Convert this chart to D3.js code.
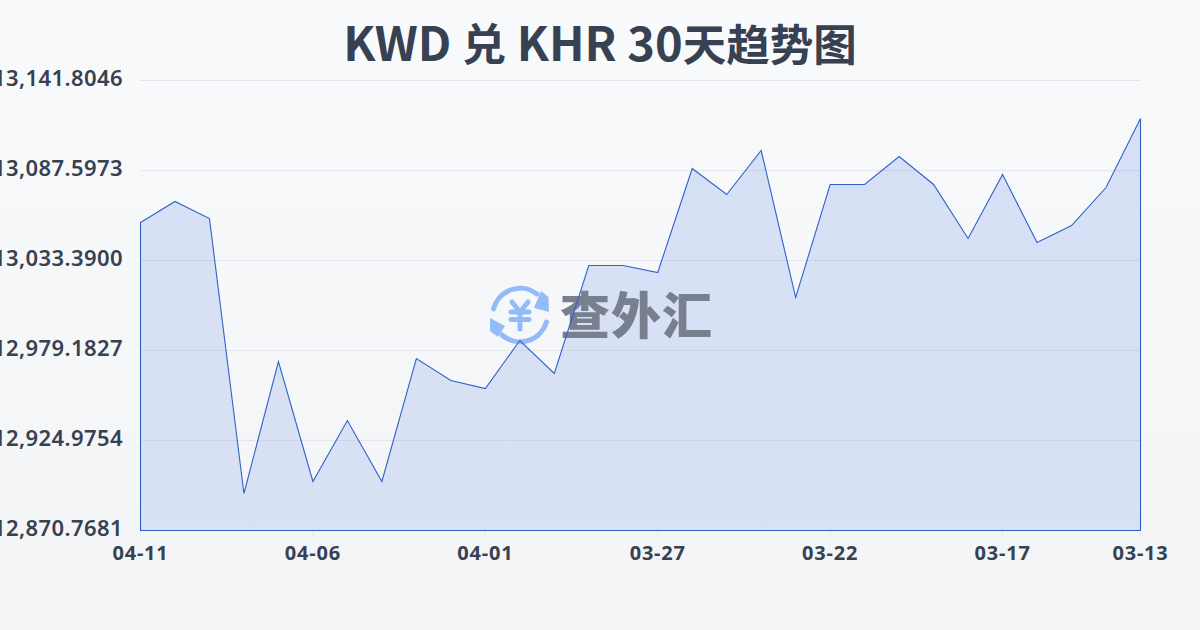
<!DOCTYPE html>
<html><head><meta charset="utf-8">
<style>html,body{margin:0;padding:0;width:1200px;height:630px;overflow:hidden}svg{display:block}</style>
<script src="https://cdn.jsdelivr.net/npm/d3@7/dist/d3.min.js"></script>
</head><body><svg id="c" width="1200" height="630"></svg>
<script>
const titleParts = [["KWD ",47],["兑",44],[" KHR 30",47],["天趋势图",43.5]];
const dates = ["04-11","04-10","04-09","04-08","04-07","04-06","04-05","04-04","04-03","04-02","04-01","03-31","03-30","03-29","03-28","03-27","03-26","03-25","03-24","03-23","03-22","03-21","03-20","03-19","03-18","03-17","03-16","03-15","03-14","03-13"];
const rates = [13056.28,13068.93,13058.69,12893.05,12972.56,12900.28,12937.02,12900.28,12974.37,12961.11,12956.29,12985.21,12965.33,13030.38,13030.38,13026.16,13088.80,13073.14,13099.64,13011.10,13079.17,13079.17,13096.03,13079.17,13046.64,13085.19,13044.23,13054.47,13077.36,13118.92];
const yTicks = [12870.7681,12924.9754,12979.1827,13033.3900,13087.5973,13141.8046];
const xTicks = ["04-11","04-06","04-01","03-27","03-22","03-17","03-13"];

const svg = d3.select("#c");
const defs = svg.append("defs");
const bg = defs.append("linearGradient").attr("id","bg").attr("x1",0).attr("y1",0).attr("x2",0).attr("y2",1);
bg.append("stop").attr("offset",0).attr("stop-color","#f9fafc");
bg.append("stop").attr("offset",1).attr("stop-color","#f3f4f6");
svg.append("rect").attr("width",1200).attr("height",630).attr("fill","url(#bg)");

const x = d3.scalePoint().domain(dates).range([140.5,1140.5]);
const y = d3.scaleLinear().domain([yTicks[0],yTicks[5]]).range([530.5,80.5]);
const font = "'Noto Sans','Noto Sans CJK SC',sans-serif";

const title = svg.append("text").attr("x",600).attr("y",61).attr("text-anchor","middle")
  .attr("font-family","'Noto Sans CJK SC',sans-serif").attr("font-weight",700)
  .attr("fill","#374151").attr("xml:space","preserve").style("white-space","pre");
titleParts.forEach(p=>title.append("tspan").attr("font-size",p[1]).text(p[0]));

const gy = svg.append("g");
yTicks.forEach(t=>{
  gy.append("line").attr("x1",140).attr("x2",1141).attr("y1",y(t)).attr("y2",y(t)).attr("stroke","#e5e7eb").attr("stroke-width",1);
  gy.append("text").attr("x",123).attr("y",y(t)+5.5).attr("text-anchor","end").attr("font-family",font)
    .attr("font-size",22).attr("font-weight",600).attr("letter-spacing",0.42).attr("fill","#374151").text(d3.format(",.4f")(t));
});
xTicks.forEach(t=>{
  svg.append("line").attr("x1",x(t)).attr("x2",x(t)).attr("y1",530).attr("y2",536).attr("stroke","#e5e7eb");
  svg.append("text").attr("x",x(t)).attr("y",560).attr("text-anchor","middle").attr("font-family",font)
    .attr("font-size",20).attr("font-weight",700).attr("letter-spacing",0.8).attr("fill","#374151").text(t);
});

const ag = defs.append("linearGradient").attr("id","ag").attr("x1",0).attr("y1",0).attr("x2",0).attr("y2",1);
ag.append("stop").attr("offset",0).attr("stop-color","#2a62da").attr("stop-opacity",0.165);
ag.append("stop").attr("offset",1).attr("stop-color","#2a62da").attr("stop-opacity",0.135);
const area = d3.area().x((d,i)=>x(dates[i])).y0(y(yTicks[0])).y1(d=>y(d));
svg.append("path").datum(rates).attr("d",d=>area(d)+"Z").attr("fill","url(#ag)");

// watermark
const wm = svg.append("g");
const ic = wm.append("g").attr("transform","translate(520,315)").attr("fill","none").attr("stroke","#93bbf9").attr("stroke-linecap","round");
ic.append("path").attr("d","M-26.5,-6 A27.5,27.5 0 0 1 17,-21").attr("stroke-width",5);
ic.append("path").attr("d","M26.5,7 A27.5,27.5 0 0 1 -18,20").attr("stroke-width",5);
ic.append("path").attr("d","M14,-7 L29,-3 L28.5,-18 L21,-24 Z").attr("fill","#93bbf9").attr("stroke","none");
ic.append("path").attr("d","M-15,11 L-30,3 L-30,16 L-22,22 Z").attr("fill","#93bbf9").attr("stroke","none");
ic.append("path").attr("d","M-8,-13 L0,-3 L8,-13 M-9,-3 H9 M-9,4.5 H9 M0,-3 V14").attr("stroke-width",5);
wm.append("text").attr("x",560).attr("y",334).attr("font-family","'Noto Sans CJK SC'").attr("font-weight",900)
  .attr("font-size",50).attr("textLength",152).attr("fill","#787f8f").text("查外汇");

svg.append("path").datum(rates).attr("d",d=>area(d)+"Z").attr("fill","none").attr("stroke","#2f62c9").attr("stroke-width",1.1);
</script></body></html>
